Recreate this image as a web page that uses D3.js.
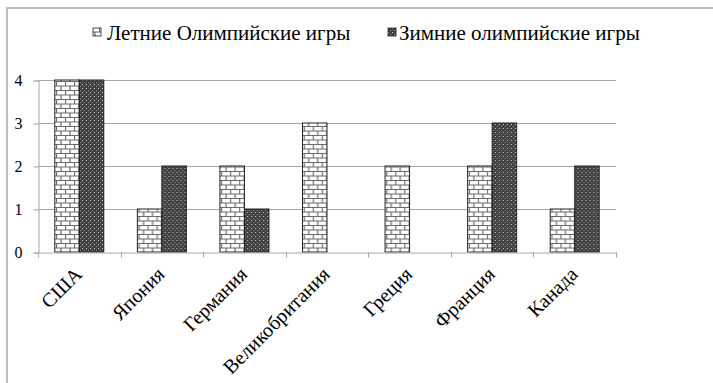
<!DOCTYPE html>
<html>
<head>
<meta charset="utf-8">
<script src="https://cdn.jsdelivr.net/npm/d3@7"></script>
<style>
  html, body { margin: 0; padding: 0; background: #fff; }
  svg { display: block; }
</style>
</head>
<body>
<script>
// Олимпийские игры: число проведённых игр по странам
const countries = ["США", "Япония", "Германия", "Великобритания", "Греция", "Франция", "Канада"];
const seriesNames = ["Летние Олимпийские игры", "Зимние олимпийские игры"];
const summerGames = [4, 1, 2, 3, 2, 2, 1];
const winterGames = [4, 2, 1, 0, 0, 3, 2];
const yTicks = [0, 1, 2, 3, 4];

const FONT = "Liberation Serif";
const W = 713, H = 383;
const svg = d3.select("body").append("svg").attr("width", W).attr("height", H);

// Fill patterns: brick for summer, dotted dark for winter
const defs = svg.append("defs");
const brick = defs.append("pattern").attr("id", "brick")
  .attr("patternUnits", "userSpaceOnUse").attr("width", 9).attr("height", 9);
brick.append("rect").attr("width", 9).attr("height", 9).attr("fill", "#fff");
brick.append("path")
  .attr("d", "M0,0.5H9 M0,5H9 M0.5,0V4.5 M5,4.5V9")
  .attr("stroke", "#6a6a6a").attr("stroke-width", 1.2).attr("fill", "none");

const dots = defs.append("pattern").attr("id", "dots")
  .attr("patternUnits", "userSpaceOnUse").attr("width", 4).attr("height", 4);
dots.append("rect").attr("width", 4).attr("height", 4).attr("fill", "#414141");
dots.append("rect").attr("x", 0).attr("y", 0).attr("width", 1).attr("height", 1).attr("fill", "#cfcfcf");
dots.append("rect").attr("x", 2).attr("y", 2).attr("width", 1).attr("height", 1).attr("fill", "#909090");

const fills = ["url(#brick)", "url(#dots)"];

// Chart frame
svg.append("rect").attr("x", 7).attr("y", 8).attr("width", W + 10).attr("height", H + 10)
  .attr("fill", "none").attr("stroke", "#bdbdbd").attr("stroke-width", 2);

const plot = { left: 38, right: 616, top: 80, bottom: 252 };

const x0 = d3.scaleBand().domain(countries).range([plot.left, plot.right]).paddingInner(0).paddingOuter(0);
const x1 = d3.scaleBand().domain(d3.range(seriesNames.length)).range([0, x0.bandwidth()])
  .paddingInner(0).paddingOuter(0.685);
const y = d3.scaleLinear().domain([0, 4]).range([plot.bottom, plot.top]);

// Gridlines
svg.append("g").selectAll("line").data(yTicks.filter(d => d > 0)).join("line")
  .attr("x1", plot.left).attr("x2", plot.right)
  .attr("y1", d => Math.round(y(d)) + 0.5).attr("y2", d => Math.round(y(d)) + 0.5)
  .attr("stroke", "#a6a6a6").attr("stroke-width", 1);

// Y axis
const yAxis = d3.axisLeft(y).tickValues(yTicks).tickSize(5).tickPadding(11).tickFormat(d3.format("d"));
const gy = svg.append("g").attr("transform", `translate(${plot.left + 0.5},0.5)`).call(yAxis);
gy.select(".domain").attr("stroke", "#a6a6a6");
gy.selectAll(".tick line").attr("stroke", "#a6a6a6");
gy.selectAll(".tick text")
  .style("font-family", FONT).style("font-size", "16px").style("fill", "#000");

// Bars
const groups = svg.append("g").selectAll("g").data(countries).join("g")
  .attr("transform", d => `translate(${x0(d)},0)`);
groups.selectAll("rect")
  .data((d, i) => [summerGames[i], winterGames[i]].map((v, s) => ({ v, s })))
  .join("rect")
  .filter(d => d.v > 0)
  .attr("x", d => x1(d.s))
  .attr("width", x1.bandwidth())
  .attr("y", d => y(d.v))
  .attr("height", d => y(0) - y(d.v))
  .attr("fill", d => fills[d.s])
  .attr("stroke", "#222").attr("stroke-width", 1);

// X axis
const xAxis = d3.axisBottom(x0).tickSize(0).tickFormat(d => d);
const gx = svg.append("g").attr("transform", `translate(0,${plot.bottom + 0.5})`).call(xAxis);
gx.select(".domain").attr("stroke", "#a6a6a6");
// boundary ticks between categories
gx.selectAll(".cat-tick").data(d3.range(countries.length + 1)).join("line")
  .attr("class", "cat-tick")
  .attr("x1", i => Math.round(plot.left + i * x0.step()) + 0.5)
  .attr("x2", i => Math.round(plot.left + i * x0.step()) + 0.5)
  .attr("y1", 0).attr("y2", 5).attr("stroke", "#a6a6a6");
gx.selectAll(".tick text")
  .style("font-family", FONT).style("font-size", "20px").style("fill", "#000")
  .attr("text-anchor", "end")
  .attr("x", 0).attr("y", 0).attr("dy", 0)
  .attr("transform", "translate(4,23) rotate(-45)");

// Legend
const legendItems = [
  { x: 93, tx: 107, label: seriesNames[0], s: 0 },
  { x: 388, tx: 399, label: seriesNames[1], s: 1 }
];
const lg = svg.append("g").selectAll("g").data(legendItems).join("g");
lg.append("rect").attr("x", d => d.x).attr("y", 28).attr("width", 8).attr("height", 8)
  .attr("fill", d => fills[d.s]).attr("stroke", "#222").attr("stroke-width", 0.8);
lg.append("text").attr("x", d => d.tx).attr("y", 40)
  .style("font-family", FONT).style("font-size", "21px").style("fill", "#000")
  .text(d => d.label);
</script>
</body>
</html>
